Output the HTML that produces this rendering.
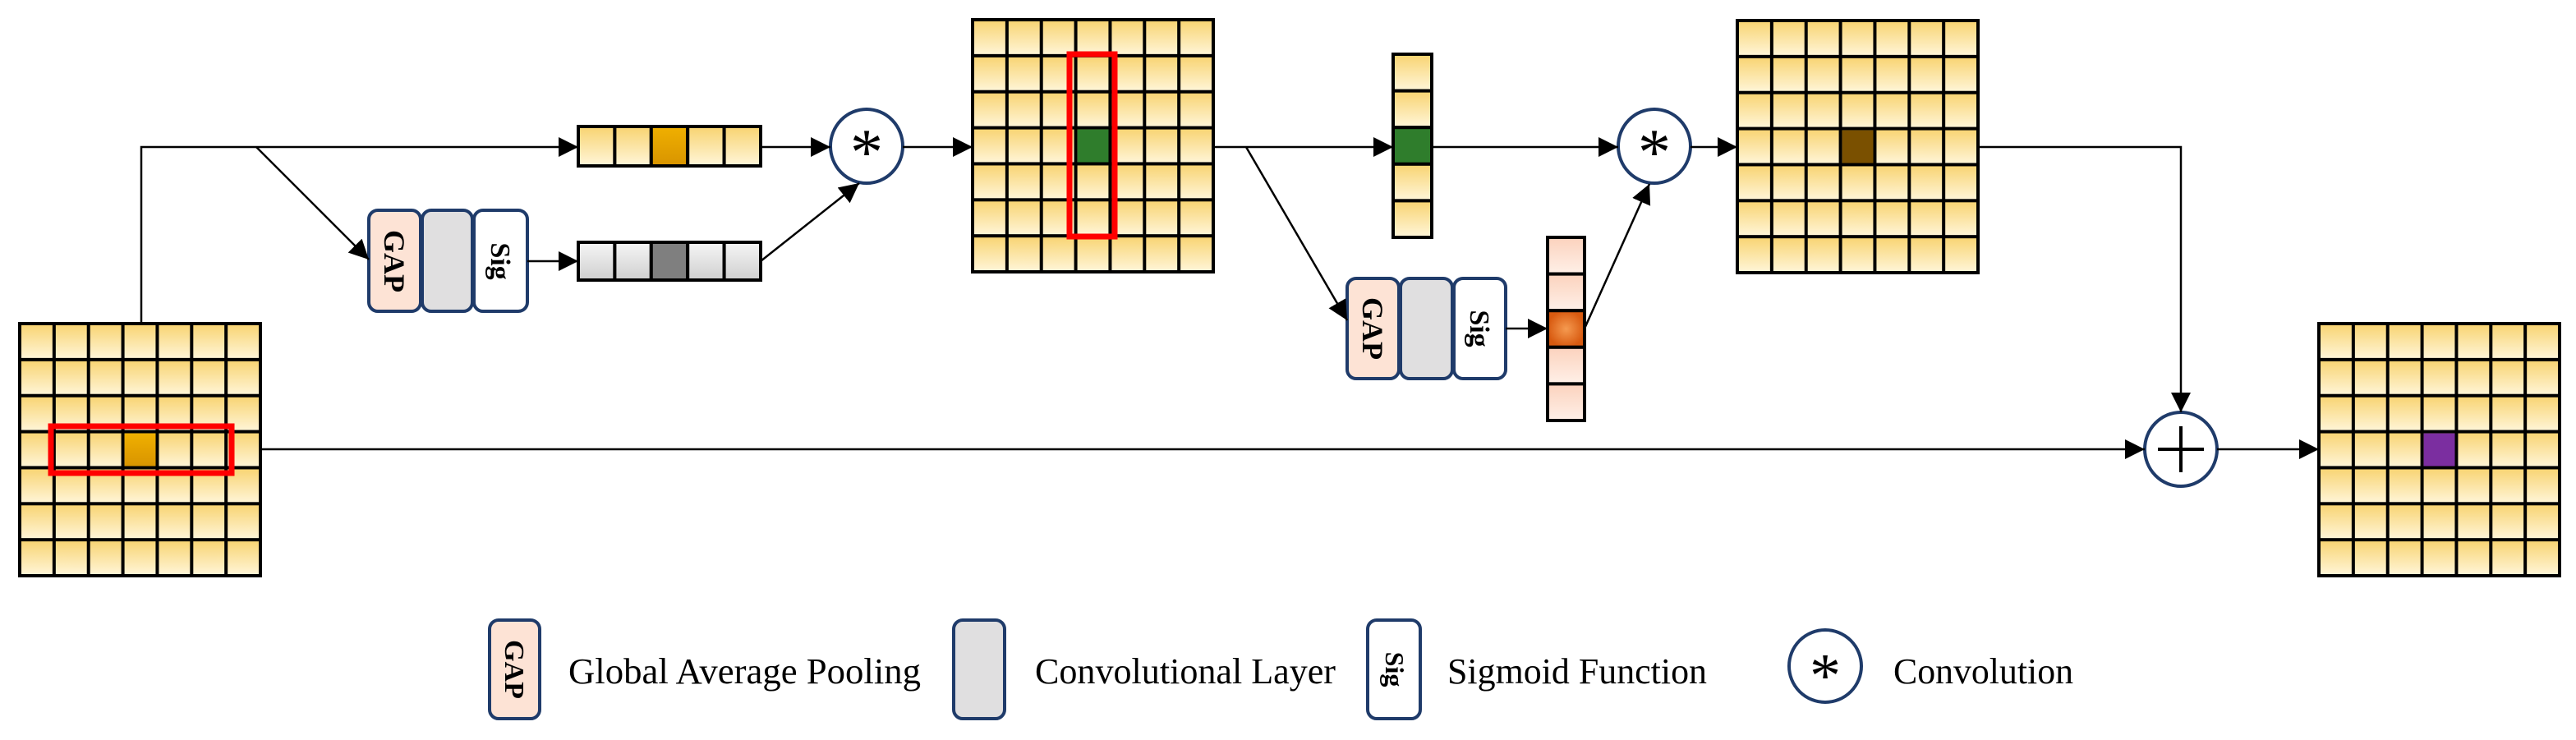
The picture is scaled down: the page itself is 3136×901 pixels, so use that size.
<!DOCTYPE html>
<html><head><meta charset="utf-8"><style>html,body{margin:0;padding:0;background:#fff}svg{display:block}</style></head>
<body>
<svg width="3136" height="901" viewBox="0 0 3136 901" xmlns="http://www.w3.org/2000/svg" font-family="Liberation Serif, serif">
<defs>
<linearGradient id="yg" x1="0" y1="0" x2="0" y2="1"><stop offset="0" stop-color="#f8d370"/><stop offset="1" stop-color="#fff6da"/></linearGradient>
<linearGradient id="og" x1="0" y1="0" x2="0" y2="1"><stop offset="0" stop-color="#f0b000"/><stop offset="1" stop-color="#d89400"/></linearGradient>
<linearGradient id="gg" x1="0" y1="0" x2="0" y2="1"><stop offset="0" stop-color="#f6f6f6"/><stop offset="1" stop-color="#cfcfcf"/></linearGradient>
<linearGradient id="pg" x1="0" y1="0" x2="0" y2="1"><stop offset="0" stop-color="#fbd2bd"/><stop offset="1" stop-color="#fff0e8"/></linearGradient>
<radialGradient id="org"><stop offset="0" stop-color="#f59a50"/><stop offset="1" stop-color="#d85a10"/></radialGradient>
<pattern id="p1" patternUnits="userSpaceOnUse" x="24" y="394" width="41.86" height="43.86"><rect width="41.86" height="43.86" fill="url(#yg)" stroke="#000" stroke-width="4"/></pattern>
<pattern id="p2" patternUnits="userSpaceOnUse" x="1184" y="24" width="41.86" height="43.86"><rect width="41.86" height="43.86" fill="url(#yg)" stroke="#000" stroke-width="4"/></pattern>
<pattern id="p3" patternUnits="userSpaceOnUse" x="2115" y="25" width="41.86" height="43.86"><rect width="41.86" height="43.86" fill="url(#yg)" stroke="#000" stroke-width="4"/></pattern>
<pattern id="p4" patternUnits="userSpaceOnUse" x="2823" y="394" width="41.86" height="43.86"><rect width="41.86" height="43.86" fill="url(#yg)" stroke="#000" stroke-width="4"/></pattern>
<marker id="ar" markerUnits="userSpaceOnUse" markerWidth="26" markerHeight="26" refX="24" refY="12" orient="auto"><path d="M0,0 L24,12 L0,24 Z" fill="#000"/></marker>
</defs>

<rect x="24" y="394" width="293" height="307" fill="url(#p1)" stroke="#000" stroke-width="4"/>
<rect x="151.6" y="527.6" width="37.9" height="39.9" fill="url(#og)"/>
<rect x="62" y="519" width="220" height="57" fill="none" stroke="#f00" stroke-width="7"/>

<rect x="1184" y="24" width="293" height="307" fill="url(#p2)" stroke="#000" stroke-width="4"/>
<rect x="1311.6" y="157.6" width="37.9" height="39.9" fill="#2f7d2c"/>
<rect x="1302" y="66" width="55" height="222" fill="none" stroke="#f00" stroke-width="7"/>

<rect x="2115" y="25" width="293" height="307" fill="url(#p3)" stroke="#000" stroke-width="4"/>
<rect x="2242.6" y="158.6" width="37.9" height="39.9" fill="#7a5000"/>

<rect x="2823" y="394" width="293" height="307" fill="url(#p4)" stroke="#000" stroke-width="4"/>
<rect x="2950.6" y="527.6" width="37.9" height="39.9" fill="#7b2ea0"/>

<g stroke="#000" stroke-width="4">
<rect x="704" y="154" width="44.4" height="48" fill="url(#yg)"/>
<rect x="748.4" y="154" width="44.4" height="48" fill="url(#yg)"/>
<rect x="792.8" y="154" width="44.4" height="48" fill="url(#og)"/>
<rect x="837.2" y="154" width="44.4" height="48" fill="url(#yg)"/>
<rect x="881.6" y="154" width="44.4" height="48" fill="url(#yg)"/>
<rect x="704" y="295" width="44.4" height="46" fill="url(#gg)"/>
<rect x="748.4" y="295" width="44.4" height="46" fill="url(#gg)"/>
<rect x="792.8" y="295" width="44.4" height="46" fill="#7f7f7f"/>
<rect x="837.2" y="295" width="44.4" height="46" fill="url(#gg)"/>
<rect x="881.6" y="295" width="44.4" height="46" fill="url(#gg)"/>
<rect x="1696" y="66" width="47" height="44.6" fill="url(#yg)"/>
<rect x="1696" y="110.6" width="47" height="44.6" fill="url(#yg)"/>
<rect x="1696" y="155.2" width="47" height="44.6" fill="#2f7d2c"/>
<rect x="1696" y="199.8" width="47" height="44.6" fill="url(#yg)"/>
<rect x="1696" y="244.4" width="47" height="44.6" fill="url(#yg)"/>
<rect x="1884" y="289" width="45" height="44.6" fill="url(#pg)"/>
<rect x="1884" y="333.6" width="45" height="44.6" fill="url(#pg)"/>
<rect x="1884" y="378.2" width="45" height="44.6" fill="url(#org)"/>
<rect x="1884" y="422.8" width="45" height="44.6" fill="url(#pg)"/>
<rect x="1884" y="467.4" width="45" height="44.6" fill="url(#pg)"/>
</g>

<g stroke="#1f3b6a" stroke-width="4">
<rect x="449" y="256" width="63" height="123" rx="11" fill="#fde3d5"/>
<rect x="514" y="256" width="61" height="123" rx="11" fill="#e0dfe0"/>
<rect x="577" y="256" width="65" height="123" rx="11" fill="#fff"/>
<rect x="1640" y="339" width="63" height="122" rx="11" fill="#fde3d5"/>
<rect x="1705" y="339" width="63" height="122" rx="11" fill="#e0dfe0"/>
<rect x="1770" y="339" width="63" height="122" rx="11" fill="#fff"/>
</g>
<g font-weight="bold" fill="#000" text-anchor="middle">
<text x="480" y="318" font-size="36" transform="rotate(90 480 318)" dy="12">GAP</text>
<text x="609" y="318" font-size="34" transform="rotate(90 609 318)" dy="11">Sig</text>
<text x="1671" y="400" font-size="36" transform="rotate(90 1671 400)" dy="12">GAP</text>
<text x="1801" y="400" font-size="34" transform="rotate(90 1801 400)" dy="11">Sig</text>
</g>

<g stroke="#1f3b6a" stroke-width="4" fill="#fff">
<ellipse cx="1055" cy="178" rx="44" ry="45"/>
<ellipse cx="2014" cy="178" rx="44" ry="45"/>
<ellipse cx="2655" cy="547" rx="44" ry="45"/>
</g>
<g font-size="80" text-anchor="middle" fill="#000">
<text x="1055" y="212">*</text>
<text x="2014" y="212">*</text>
</g>
<path d="M2655,519 V575 M2627,547 H2683" stroke="#000" stroke-width="4"/>

<g stroke="#000" stroke-width="2.5" fill="none" marker-end="url(#ar)">
<path d="M172,394 V179 H704"/>
<path d="M312,179 L449,316"/>
<path d="M926,179 H1011"/>
<path d="M642,318 H704"/>
<path d="M926,318 L1046,223"/>
<path d="M1099,179 H1184"/>
<path d="M1477,179 H1696"/>
<path d="M1517,179 L1640,390"/>
<path d="M1743,179 H1970"/>
<path d="M1833,400 H1884"/>
<path d="M1929,400 L2008,224"/>
<path d="M2058,179 H2115"/>
<path d="M2408,179 H2655 V502"/>
<path d="M317,547 H2611"/>
<path d="M2699,547 H2823"/>
</g>

<g stroke="#1f3b6a" stroke-width="4">
<rect x="596" y="755" width="61" height="120" rx="11" fill="#fde3d5"/>
<rect x="1161" y="755" width="62" height="120" rx="11" fill="#e0dfe0"/>
<rect x="1665" y="755" width="64" height="120" rx="11" fill="#fff"/>
<ellipse cx="2222" cy="811" rx="44" ry="44" fill="#fff"/>
</g>
<g font-weight="bold" text-anchor="middle" fill="#000">
<text x="626" y="815" font-size="34" transform="rotate(90 626 815)" dy="11">GAP</text>
<text x="1697" y="815" font-size="32" transform="rotate(90 1697 815)" dy="10">Sig</text>
</g>
<text x="2222" y="848" font-size="76" text-anchor="middle">*</text>
<g font-size="44" fill="#000">
<text x="692" y="832" textLength="429" lengthAdjust="spacingAndGlyphs">Global Average Pooling</text>
<text x="1260" y="832" textLength="366" lengthAdjust="spacingAndGlyphs">Convolutional Layer</text>
<text x="1762" y="832" textLength="316" lengthAdjust="spacingAndGlyphs">Sigmoid Function</text>
<text x="2305" y="832" textLength="219" lengthAdjust="spacingAndGlyphs">Convolution</text>
</g>
</svg>
</body></html>
